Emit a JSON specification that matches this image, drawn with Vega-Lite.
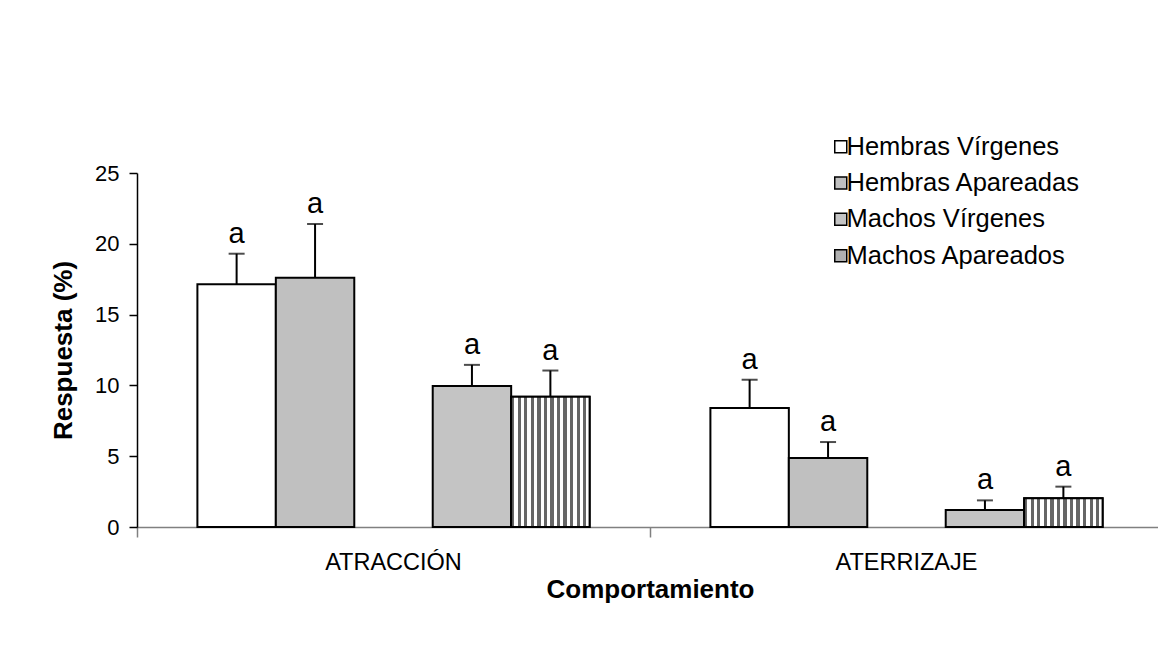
{
  "$schema": "https://vega.github.io/schema/vega-lite/v6.json",
  "autosize": "none",
  "width": 1021,
  "height": 354,
  "padding": {"left": 137, "top": 173, "right": 0, "bottom": 122},
  "background": "white",
  "config": {
    "font": "Liberation Sans",
    "view": {"stroke": null},
    "axis": {"grid": false, "labelColor": "black", "titleColor": "black", "labelFont": "Liberation Sans", "titleFont": "Liberation Sans"}
  },
  "data": {
    "values": [
      {"comportamiento": "ATRACCIÓN", "grupo": "Hembras Vírgenes", "valor": 17.15, "error": 19.3, "letra": "a"},
      {"comportamiento": "ATRACCIÓN", "grupo": "Hembras Apareadas", "valor": 17.6, "error": 21.4, "letra": "a"},
      {"comportamiento": "ATRACCIÓN", "grupo": "Machos Vírgenes", "valor": 9.95, "error": 11.45, "letra": "a"},
      {"comportamiento": "ATRACCIÓN", "grupo": "Machos Apareados", "valor": 9.2, "error": 11.05, "letra": "a"},
      {"comportamiento": "ATERRIZAJE", "grupo": "Hembras Vírgenes", "valor": 8.4, "error": 10.4, "letra": "a"},
      {"comportamiento": "ATERRIZAJE", "grupo": "Hembras Apareadas", "valor": 4.87, "error": 6.0, "letra": "a"},
      {"comportamiento": "ATERRIZAJE", "grupo": "Machos Vírgenes", "valor": 1.2, "error": 1.88, "letra": "a"},
      {"comportamiento": "ATERRIZAJE", "grupo": "Machos Apareados", "valor": 2.03, "error": 2.85, "letra": "a"}
    ]
  },
  "encoding": {
    "x": {
      "field": "comportamiento", "type": "nominal", "sort": ["ATRACCIÓN", "ATERRIZAJE"],
      "scale": {"paddingInner": 0, "paddingOuter": 0, "range": [0, 1026]},
      "axis": {
        "title": "Comportamiento", "labelAngle": 0, "labelFontSize": 23.5, "labelPadding": 13,
        "titleFontSize": 26, "titleFontWeight": "bold", "titlePadding": 3,
        "bandPosition": 0, "tickSize": 10, "tickColor": "#808080", "domainColor": "#808080", "domainWidth": 1.5, "tickWidth": 1.5
      }
    },
    "xOffset": {
      "field": "grupo", "type": "nominal",
      "scale": {"domain": ["Hembras Vírgenes", "Hembras Apareadas", "_", "Machos Vírgenes", "Machos Apareados"], "paddingInner": 0, "paddingOuter": 0.77}
    },
    "y": {
      "field": "valor", "type": "quantitative",
      "scale": {"domain": [0, 25], "nice": false},
      "axis": {
        "title": "Respuesta (%)", "values": [0, 5, 10, 15, 20, 25], "labelFontSize": 22, "labelPadding": 10,
        "titleFontSize": 26, "titleFontWeight": "bold", "titlePadding": 18,
        "tickSize": 8, "tickColor": "black", "domainColor": "black", "domainWidth": 1.5, "tickWidth": 1.5
      }
    }
  },
  "layer": [
    {
      "mark": {"type": "bar", "stroke": "black", "strokeWidth": 2},
      "encoding": {
        "fill": {
          "field": "grupo", "type": "nominal",
          "scale": {"domain": ["Hembras Vírgenes", "Hembras Apareadas", "Machos Vírgenes", "Machos Apareados"], "range": ["#ffffff", "#c0c0c0", "#c4c4c4", "#b0b0b0"]},
          "legend": {
            "title": null, "orient": "none", "legendX": 691, "legendY": -39, "padding": 0,
            "symbolType": "square", "symbolSize": 144, "symbolStrokeColor": "black", "symbolStrokeWidth": 1.5,
            "labelFontSize": 25.5, "labelFont": "Liberation Sans", "labelColor": "black", "labelOffset": -7, "rowPadding": 9.3, "labelLimit": 400
          }
        }
      }
    },
    {
      "transform": [{"filter": "datum.grupo === 'Machos Apareados'"}],
      "mark": {
        "type": "bar", "stroke": "black", "strokeWidth": 2,
        "fill": {
          "gradient": "linear", "x1": 0, "y1": 0, "x2": 1, "y2": 0,
          "stops": [
            {"offset": 0, "color": "#666666"}, {"offset": 0.04, "color": "#666666"}, {"offset": 0.04, "color": "#ffffff"}, {"offset": 0.0833, "color": "#ffffff"},
            {"offset": 0.0833, "color": "#666666"}, {"offset": 0.125, "color": "#666666"}, {"offset": 0.125, "color": "#ffffff"}, {"offset": 0.1667, "color": "#ffffff"},
            {"offset": 0.1667, "color": "#666666"}, {"offset": 0.2083, "color": "#666666"}, {"offset": 0.2083, "color": "#ffffff"}, {"offset": 0.25, "color": "#ffffff"},
            {"offset": 0.25, "color": "#666666"}, {"offset": 0.2917, "color": "#666666"}, {"offset": 0.2917, "color": "#ffffff"}, {"offset": 0.3333, "color": "#ffffff"},
            {"offset": 0.3333, "color": "#666666"}, {"offset": 0.375, "color": "#666666"}, {"offset": 0.375, "color": "#ffffff"}, {"offset": 0.4167, "color": "#ffffff"},
            {"offset": 0.4167, "color": "#666666"}, {"offset": 0.4583, "color": "#666666"}, {"offset": 0.4583, "color": "#ffffff"}, {"offset": 0.5, "color": "#ffffff"},
            {"offset": 0.5, "color": "#666666"}, {"offset": 0.5417, "color": "#666666"}, {"offset": 0.5417, "color": "#ffffff"}, {"offset": 0.5833, "color": "#ffffff"},
            {"offset": 0.5833, "color": "#666666"}, {"offset": 0.625, "color": "#666666"}, {"offset": 0.625, "color": "#ffffff"}, {"offset": 0.6667, "color": "#ffffff"},
            {"offset": 0.6667, "color": "#666666"}, {"offset": 0.7083, "color": "#666666"}, {"offset": 0.7083, "color": "#ffffff"}, {"offset": 0.75, "color": "#ffffff"},
            {"offset": 0.75, "color": "#666666"}, {"offset": 0.7917, "color": "#666666"}, {"offset": 0.7917, "color": "#ffffff"}, {"offset": 0.8333, "color": "#ffffff"},
            {"offset": 0.8333, "color": "#666666"}, {"offset": 0.875, "color": "#666666"}, {"offset": 0.875, "color": "#ffffff"}, {"offset": 0.9167, "color": "#ffffff"},
            {"offset": 0.9167, "color": "#666666"}, {"offset": 0.9583, "color": "#666666"}, {"offset": 0.9583, "color": "#ffffff"}, {"offset": 1, "color": "#ffffff"}
          ]
        }
      }
    },
    {
      "mark": {"type": "rule", "color": "black", "strokeWidth": 2},
      "encoding": {"y2": {"field": "error"}}
    },
    {
      "mark": {"type": "tick", "color": "black", "thickness": 2, "size": 16, "orient": "horizontal"},
      "encoding": {"y": {"field": "error", "type": "quantitative"}}
    },
    {
      "mark": {"type": "text", "fontSize": 29, "font": "Liberation Sans", "baseline": "bottom", "dy": -5, "color": "black"},
      "encoding": {"y": {"field": "error", "type": "quantitative"}, "text": {"field": "letra"}}
    }
  ]
}
